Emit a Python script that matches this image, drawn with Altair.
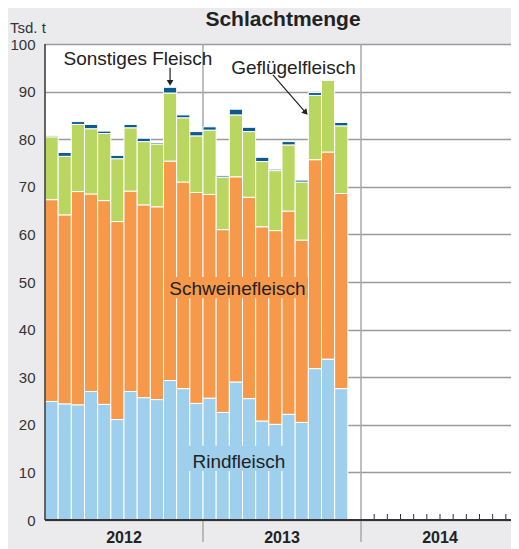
import altair as alt
import pandas as pd

# ---- data (Tsd. t), Jan 2012 .. Nov 2013 ----
years = ["2012", "2013", "2014"]
months = [f"{y}-{m:02d}" for y in (2012, 2013) for m in range(1, 13)][:23]
rind = [24.9, 24.4, 24.2, 27.0, 24.3, 21.1, 27.0, 25.7, 25.3, 29.3, 27.6, 24.5,
        25.6, 22.6, 29.0, 25.5, 20.8, 20.1, 22.2, 20.5, 31.8, 33.8, 27.6]
schwein = [42.4, 39.7, 44.8, 41.5, 42.8, 41.6, 42.1, 40.5, 40.5, 46.1, 43.4, 44.3,
           42.8, 38.4, 43.1, 42.3, 40.8, 40.7, 42.7, 38.3, 43.9, 43.5, 41.0]
gefluegel = [13.2, 12.3, 14.1, 13.7, 14.1, 13.2, 13.3, 13.3, 13.2, 14.3, 13.5, 11.9,
             13.5, 11.0, 13.0, 13.8, 13.7, 12.6, 13.9, 12.2, 13.5, 15.1, 14.2]
sonstige = [0.2, 0.8, 0.6, 0.9, 0.5, 0.7, 0.7, 0.7, 0.3, 1.2, 0.6, 0.9,
            0.7, 0.3, 1.2, 0.9, 0.9, 0.3, 0.7, 0.4, 0.6, 0.0, 0.7]
cats = ["Rindfleisch", "Schweinefleisch", "Geflügelfleisch", "Sonstiges Fleisch"]
colors = ["#9ed0ee", "#f7994a", "#b9d660", "#0b5b8f"]

series = [rind, schwein, gefluegel, sonstige]
rows = []
for i, m in enumerate(months):
    for k, (cat, vals) in enumerate(zip(cats, series)):
        rows.append({"monat": m, "start": i, "end": i + 1, "kat": cat,
                     "wert": vals[i], "ord": k})
df = pd.DataFrame(rows)

FONT = "Liberation Sans"
W, H = 466, 476
PX_PER_MONTH = 474 / 36
xscale = alt.Scale(domain=[0, W / PX_PER_MONTH], nice=False, zero=False)
yscale = alt.Scale(domain=[0, 100], nice=False)
color_scale = alt.Scale(domain=cats, range=colors)

bars = alt.Chart(df).transform_stack(
    stack="wert", as_=["y0", "y1"], groupby=["monat"],
    sort=[alt.SortField("ord", order="ascending")],
).mark_rect(stroke="white", strokeWidth=1).encode(
    x=alt.X("start:Q", scale=xscale, axis=None),
    x2="end:Q",
    y=alt.Y("y0:Q", scale=yscale, title=None),
    y2="y1:Q",
    color=alt.Color("kat:N", scale=color_scale, legend=None),
)

# year separators
sep_df = pd.DataFrame({"pos": [12, 24]})
seps = alt.Chart(sep_df).mark_rule(color="#a8a8a8", strokeWidth=1.5).encode(
    x=alt.X("pos:Q", scale=xscale, axis=None),
    y=alt.value(0), y2=alt.value(498),
)

# axis lines
left_line = alt.Chart(pd.DataFrame({"a": [0]})).mark_rule(color="#333333", strokeWidth=1.5).encode(
    x=alt.value(0), y=alt.value(0), y2=alt.value(H))
bottom_line = alt.Chart(pd.DataFrame({"a": [0]})).mark_rule(color="#333333", strokeWidth=2).encode(
    x=alt.value(0), x2=alt.value(W), y=alt.value(H))

# month ticks in 2014
tick_df = pd.DataFrame({"pos": list(range(25, 36))})
mticks = alt.Chart(tick_df).mark_rule(color="#333333", strokeWidth=1).encode(
    x=alt.X("pos:Q", scale=xscale, axis=None),
    y=alt.value(H - 6), y2=alt.value(H),
)

# year labels
year_df = pd.DataFrame({"jahr": years, "mid": [6, 18, 30]})
year_text = alt.Chart(year_df).mark_text(font=FONT, fontSize=16, fontWeight="bold",
                                         color="#222222", baseline="alphabetic").encode(
    x=alt.X("mid:Q", scale=xscale, axis=None), y=alt.value(499), text="jahr:N")

# label boxes behind in-bar labels
box_df = pd.DataFrame({"x1": [9.26, 10.93], "x2": [19.97, 18.38],
                       "y1": [46.6, 10.3], "y2": [51.05, 15.6],
                       "kat": ["Schweinefleisch", "Rindfleisch"]})
boxes = alt.Chart(box_df).mark_rect().encode(
    x=alt.X("x1:Q", scale=xscale, axis=None), x2="x2:Q",
    y=alt.Y("y1:Q", scale=yscale, title=None), y2="y2:Q",
    color=alt.Color("kat:N", scale=color_scale, legend=None),
)

ann_df = pd.DataFrame({
    "t": ["Sonstiges Fleisch", "Geflügelfleisch", "Schweinefleisch", "Rindfleisch"],
    "x": [7.06, 18.87, 14.62, 14.73],
    "y": [95.5, 93.8, 47.3, 11.0],
})
ann = alt.Chart(ann_df).mark_text(font=FONT, fontSize=19, color="#222222",
                                  align="center", baseline="alphabetic").encode(
    x=alt.X("x:Q", scale=xscale, axis=None),
    y=alt.Y("y:Q", scale=yscale, title=None),
    text="t:N")

# arrows
arr_df = pd.DataFrame({"x1": [9.5, 17.31], "x2": [9.5, 19.8],
                       "y1": [95.0, 93.5], "y2": [92.3, 85.57]})
arr_lines = alt.Chart(arr_df).mark_rule(color="#222222", strokeWidth=1.2).encode(
    x=alt.X("x1:Q", scale=xscale, axis=None), x2="x2:Q",
    y=alt.Y("y1:Q", scale=yscale, title=None), y2="y2:Q")
head_df = pd.DataFrame({"x": [9.5, 19.8], "y": [91.85, 85.57], "ang": [0, 318.8]})
heads = alt.Chart(head_df).mark_point(shape="triangle-down", filled=True, size=45,
                                      color="#222222", opacity=1).encode(
    x=alt.X("x:Q", scale=xscale, axis=None),
    y=alt.Y("y:Q", scale=yscale, title=None),
    angle=alt.Angle("ang:Q", scale=None))

# title and unit
title_t = alt.Chart(pd.DataFrame({"t": ["Schlachtmenge"]})).mark_text(
    font=FONT, fontSize=21, fontWeight="bold", color="#222222",
    align="center", baseline="alphabetic").encode(
    x=alt.value(238), y=alt.value(-18.5), text="t:N")
unit_t = alt.Chart(pd.DataFrame({"t": ["Tsd. t"]})).mark_text(
    font=FONT, fontSize=15, color="#333333",
    align="left", baseline="alphabetic").encode(
    x=alt.value(-35), y=alt.value(-11), text="t:N")

chart = alt.layer(
    seps, bars, mticks, left_line, bottom_line, boxes, ann, arr_lines, heads,
    year_text, title_t, unit_t,
).properties(
    width=W, height=H,
    autosize=alt.AutoSizeParams(type="none"),
    padding={"left": 37, "top": 36, "right": 0, "bottom": 29},
    background="#ebebed",
).configure_view(stroke=None, fill="white").configure_axisY(
    tickCount=10, grid=True, gridColor="#9b9b9b", gridWidth=1.3,
    domain=False, ticks=False, labelFontSize=15, labelColor="#333333",
    labelFont=FONT, labelPadding=10,
)

chart.save("out.html", embed_options={"renderer": "svg", "actions": False})
